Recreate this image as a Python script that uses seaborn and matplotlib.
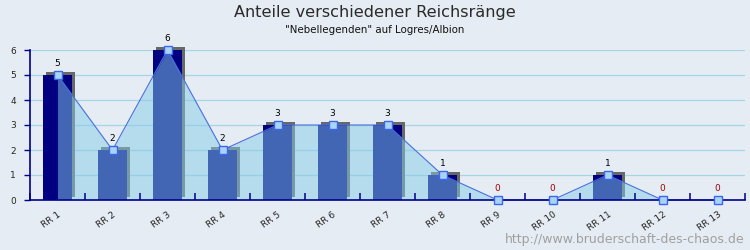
import numpy as np
import matplotlib
matplotlib.use("Agg")
import matplotlib.pyplot as plt
import seaborn as sns
import pandas as pd

# Datos del gráfico
rangos = ["RR 1", "RR 2", "RR 3", "RR 4", "RR 5", "RR 6", "RR 7",
          "RR 8", "RR 9", "RR 10", "RR 11", "RR 12", "RR 13"]
anteile = [5, 2, 6, 2, 3, 3, 3, 1, 0, 0, 1, 0, 0]
y_ticks = [0, 1, 2, 3, 4, 5, 6]

titel = "Anteile verschiedener Reichsränge"
untertitel = '"Nebellegenden" auf Logres/Albion'
quelle = "http://www.bruderschaft-des-chaos.de"

sns.set_style("white")
plt.rcParams["font.family"] = ["DejaVu Sans"]

fondo = "#e6ecf3"
azul_eje = "#00008b"

fig = plt.figure(figsize=(7.5, 2.5), dpi=100, facecolor=fondo)
ax = fig.add_axes([30 / 750, 0.2, 715 / 750, 0.6])
ax.set_facecolor(fondo)

df = pd.DataFrame({"rango": rangos, "anteil": anteile})
pos = np.arange(len(rangos))

# Líneas de la cuadrícula (detrás de todo)
for yt in y_ticks[1:]:
    ax.axhline(yt, color="#a6d5e6", linewidth=0.9, zorder=0.5)

# Sombra 3D (desplazada a la derecha y arriba)
dx = 3 / 55
dy = 3 / 25
sombra = ax.bar(pos + dx, df["anteil"], width=0.53, bottom=dy,
                color="#686868", zorder=1, linewidth=0)
for p in sombra:
    p.set_clip_on(False)
    if p.get_height() == 0:
        p.set_visible(False)
# Barras principales
sns.barplot(data=df, x="rango", y="anteil", ax=ax, color="#000080",
            saturation=1, width=0.53, linewidth=0)
for p in ax.patches[len(rangos):]:
    p.set_zorder(2)
    p.set_clip_on(False)

# Área y línea
area = ax.fill_between(pos, df["anteil"], 0, color="#84cde6", alpha=0.5,
                       zorder=3, linewidth=0)
area.set_clip_on(False)
ax.plot(pos, df["anteil"], color="#4a6fe0", linewidth=0.8, zorder=4,
        clip_on=False)

# Etiquetas de valores
for x, v in zip(pos, anteile):
    col = "#a00000" if v == 0 else "black"
    ax.annotate(str(v), (x, v), xytext=(0, 5), textcoords="offset points",
                ha="center", va="bottom", fontsize=6.5, color=col, zorder=6)

# Ejes
ax.set_xlim(-0.5, len(rangos) - 0.5)
ax.set_ylim(0, 6)
ax.set_yticks(y_ticks)
ax.grid(False)
ax.set_axisbelow(False)
ax.xaxis.set_zorder(8)
ax.yaxis.set_zorder(8)
ax.set_xlabel("")
ax.set_ylabel("")

for s in ["top", "right"]:
    ax.spines[s].set_visible(False)
for s in ["left", "bottom"]:
    ax.spines[s].set_color(azul_eje)
    ax.spines[s].set_linewidth(1.2)
    ax.spines[s].set_zorder(8)

# Marcadores por encima del eje
ax.plot(pos, df["anteil"], linestyle="none", marker="s", markersize=6,
        markerfacecolor="#a9d4f5", markeredgecolor="#3a66f0",
        markeredgewidth=1.0, zorder=9, clip_on=False)

ax.set_xticks(pos)
ax.set_xticklabels(rangos, rotation=35, ha="right", rotation_mode="anchor",
                   fontsize=6.5)
ax.set_xticks(np.arange(len(rangos) + 1) - 0.5, minor=True)
ax.tick_params(axis="x", which="major", bottom=True, length=0, pad=7)
ax.tick_params(axis="x", which="minor", bottom=True, direction="in",
               length=5, color=azul_eje, width=1.1)
ax.tick_params(axis="y", left=True, length=4, color=azul_eje, width=1,
               labelsize=6.5, pad=6)

# Títulos
fig.text(0.5, 1 - 12 / 250, titel, ha="center", va="center", fontsize=11.6,
         color="#2a2a2a")
fig.text(0.5, 1 - 30 / 250, untertitel, ha="center", va="center",
         fontsize=7.4, color="#111111")
fig.text(745 / 750, 1 - 239 / 250, quelle, ha="right", va="center",
         fontsize=9, color="#a0a0a0")

fig.savefig("out.png", dpi=100, facecolor=fondo)
